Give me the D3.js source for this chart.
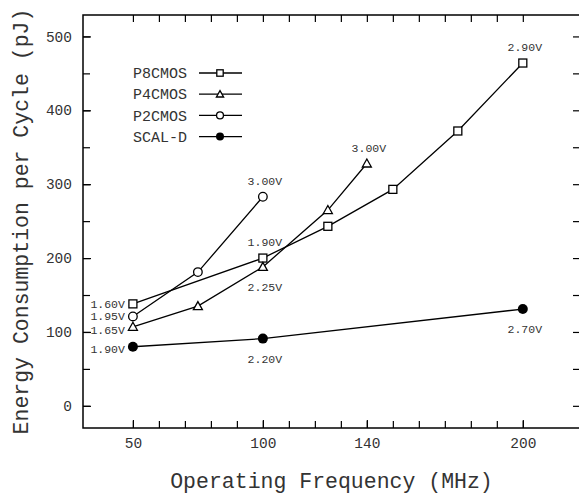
<!DOCTYPE html>
<html>
<head>
<meta charset="utf-8">
<script src="https://cdn.jsdelivr.net/npm/d3@7"></script>
<style>
  body { margin: 0; background: #fff; }
  text { font-family: "Liberation Mono", "DejaVu Sans Mono", monospace; fill: #333; }
  .frame { fill: none; stroke: #000; stroke-width: 1.5; }
  .line { fill: none; stroke: #000; stroke-width: 1.3; }
  .axis path { display: none; }
  .axis line { stroke: #000; stroke-width: 1.2; }
</style>
</head>
<body>
<div id="chart"></div>
<script>
// series
var names = ['P8CMOS', 'P4CMOS', 'P2CMOS', 'SCAL-D'];

var p8Freq = [50, 100, 125, 150, 175, 200],
    p8Energy = [138, 200, 243, 293, 372, 464],
    p8Volt = ['1.60V', '1.90V', null, null, null, '2.90V'];

var p4Freq = [50, 75, 100, 125, 140],
    p4Energy = [107, 135, 188, 265, 328],
    p4Volt = ['1.65V', null, '2.25V', null, '3.00V'];

var p2Freq = [50, 75, 100],
    p2Energy = [121, 181, 283],
    p2Volt = ['1.95V', null, '3.00V'];

var scalFreq = [50, 100, 200],
    scalEnergy = [80, 91, 131],
    scalVolt = ['1.90V', '2.20V', '2.70V'];

var xTickLabels = [50, 100, 140, 200],
    yTickLabels = [0, 100, 200, 300, 400, 500];

var xTitle = 'Operating Frequency (MHz)',
    yTitle = 'Energy Consumption per Cycle (pJ)';

var series = [
    { name: names[0], marker: 'square',   freq: p8Freq,   energy: p8Energy,   volt: p8Volt },
    { name: names[1], marker: 'triangle', freq: p4Freq,   energy: p4Energy,   volt: p4Volt },
    { name: names[2], marker: 'circle',   freq: p2Freq,   energy: p2Energy,   volt: p2Volt },
    { name: names[3], marker: 'dot',      freq: scalFreq, energy: scalEnergy, volt: scalVolt }
].map(s => ({ name: s.name, marker: s.marker,
              points: s.freq.map((f, i) => ({ freq: f, energy: s.energy[i], volt: s.volt[i] })) }));

// where each voltage note sits against its point
var labelSide = {
    'P8CMOS': ['left', 'above', null, null, null, 'above'],
    'P4CMOS': ['left', null, 'below', null, 'above'],
    'P2CMOS': ['left', null, 'above'],
    'SCAL-D': ['left', 'below', 'below']
};

var W = 579, H = 495;
var margin = {top: 15, right: 0, bottom: 67, left: 83},
    width = W - margin.left - margin.right + 1,
    height = H - margin.top - margin.bottom;

var x = d3.scaleLinear().domain([30.8, 222]).range([0, width]);
var y = d3.scaleLinear().domain([-30, 529]).range([height, 0]);

var svg = d3.select('#chart').append('svg')
    .attr('width', W)
    .attr('height', H);

var chart = svg.append('g')
    .attr('transform', 'translate(' + margin.left + ',' + margin.top + ')');

var minorX = d3.range(50, 201, 10),
    minorY = d3.range(0, 501, 50);

// inward ticks on all four sides
chart.append('g').attr('class', 'axis')
    .attr('transform', 'translate(0,' + height + ')')
    .call(d3.axisBottom(x).tickValues(minorX).tickSize(-7).tickFormat(''));
chart.append('g').attr('class', 'axis')
    .call(d3.axisTop(x).tickValues(minorX).tickSize(-7).tickFormat(''));
chart.append('g').attr('class', 'axis')
    .call(d3.axisLeft(y).tickValues(minorY).tickSize(-7).tickFormat(''));
chart.append('g').attr('class', 'axis')
    .attr('transform', 'translate(' + width + ',0)')
    .call(d3.axisRight(y).tickValues(minorY).tickSize(-7).tickFormat(''));

// labelled ticks
chart.append('g').attr('class', 'axis')
    .attr('transform', 'translate(0,' + height + ')')
    .call(d3.axisBottom(x).tickValues(xTickLabels).tickSize(-8).tickPadding(10))
    .selectAll('text')
    .style('font-size', '14.5px')
    .attr('fill', '#333');
chart.append('g').attr('class', 'axis')
    .call(d3.axisLeft(y).tickValues(yTickLabels).tickSize(-8).tickPadding(11))
    .selectAll('text')
    .style('font-size', '14.5px')
    .attr('fill', '#333');

chart.append('rect')
    .attr('class', 'frame')
    .attr('width', width)
    .attr('height', height);

// axis titles
svg.append('text')
    .attr('x', margin.left + width / 2)
    .attr('y', 488)
    .attr('text-anchor', 'middle')
    .style('font-size', '21.5px')
    .text(xTitle);

svg.append('text')
    .attr('transform', 'translate(28,' + (margin.top + height / 2) + ') rotate(-90)')
    .attr('text-anchor', 'middle')
    .style('font-size', '21.5px')
    .text(yTitle);

function drawMarker(g, type, cx, cy, k) {
    k = k || 1;
    if (type == 'square') {
	g.append('rect')
	    .attr('x', cx - 4*k).attr('y', cy - 4*k)
	    .attr('width', 8*k).attr('height', 8*k)
	    .attr('fill', '#fff').attr('stroke', '#000').attr('stroke-width', 1.3);
    } else if (type == 'triangle') {
	g.append('path')
	    .attr('d', 'M' + cx + ',' + (cy - 4.5*k) + 'L' + (cx + 4.5*k) + ',' + (cy + 3.5*k) + 'L' + (cx - 4.5*k) + ',' + (cy + 3.5*k) + 'Z')
	    .attr('fill', '#fff').attr('stroke', '#000').attr('stroke-width', 1.3);
    } else if (type == 'circle') {
	g.append('circle')
	    .attr('cx', cx).attr('cy', cy).attr('r', 4.3*k)
	    .attr('fill', '#fff').attr('stroke', '#000').attr('stroke-width', 1.3);
    } else {
	g.append('circle')
	    .attr('cx', cx).attr('cy', cy).attr('r', 5*k)
	    .attr('fill', '#000');
    }
}

var valueLine = d3.line()
    .x(d => x(d.freq))
    .y(d => y(d.energy));

series.forEach(function(s) {
    var g = chart.append('g');
    g.append('path')
	.attr('class', 'line')
	.datum(s.points)
	.attr('d', valueLine);
    s.points.forEach(function(d, i) {
	drawMarker(g, s.marker, x(d.freq), y(d.energy));
	if (!d.volt) return;
	var side = labelSide[s.name][i],
	    t = g.append('text').style('font-size', '11.5px').attr('fill', '#444').text(d.volt);
	if (side == 'left') {
	    t.attr('x', x(d.freq) - 8).attr('y', y(d.energy) + (s.name == 'SCAL-D' ? 2 : 0))
		.attr('dy', '0.35em').attr('text-anchor', 'end');
	    if (s.name == 'P4CMOS') t.attr('y', y(d.energy) + 3);
	} else if (side == 'above') {
	    t.attr('x', x(d.freq) + 2).attr('y', y(d.energy) - 12).attr('text-anchor', 'middle');
	} else {
	    t.attr('x', x(d.freq) + 2).attr('y', y(d.energy) + 24).attr('text-anchor', 'middle');
	}
    });
});

// legend
var legend = chart.append('g');
series.forEach(function(s, i) {
    var ly = 58 + i * 21.2;
    legend.append('text')
	.attr('x', 104).attr('y', ly)
	.attr('dy', '0.35em')
	.attr('text-anchor', 'end')
	.style('font-size', '15px')
	.text(s.name);
    legend.append('line')
	.attr('x1', 116).attr('x2', 159)
	.attr('y1', ly).attr('y2', ly)
	.attr('stroke', '#000').attr('stroke-width', 1.3);
    drawMarker(legend, s.marker, 137, ly, 0.8);
});
</script>
</body>
</html>
